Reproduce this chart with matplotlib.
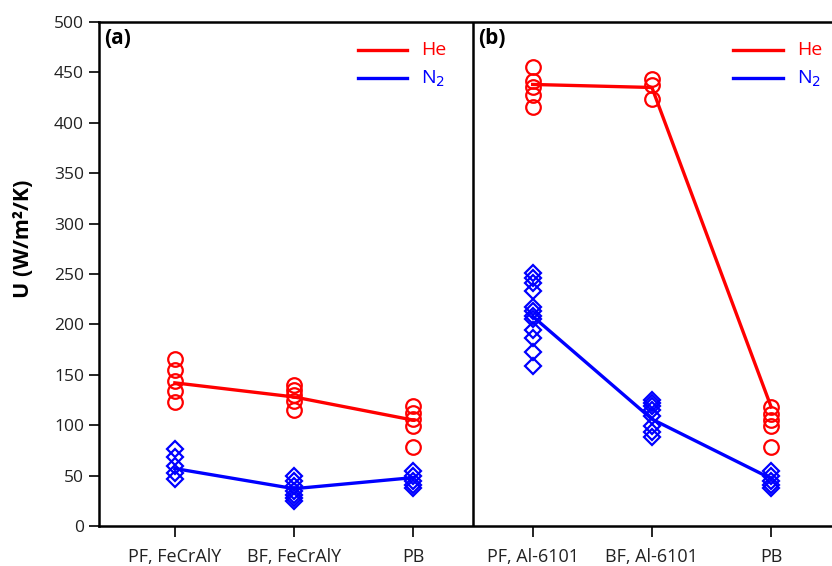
import matplotlib
matplotlib.use("Agg")
import matplotlib.pyplot as plt

plt.rcParams['font.family'] = ['Open Sans', 'DejaVu Sans']

labels = ['PF, FeCrAlY', 'BF, FeCrAlY', 'PB', 'PF, Al-6101', 'BF, Al-6101', 'PB']

# individual measurements per configuration
he_points = [
    [166, 155, 144, 134, 123],
    [140, 135, 130, 124, 115],
    [119, 112, 106, 99, 78],
    [455, 441, 435, 428, 416],
    [443, 437, 424],
    [118, 111, 105, 99, 78],
]
n2_points = [
    [76, 68, 60, 53, 47],
    [50, 45, 40, 35, 31, 28, 25],
    [55, 50, 45, 41, 38],
    [251, 246, 241, 233, 217, 213, 208, 205, 194, 186, 173, 159],
    [125, 122, 119, 115, 109, 99, 93, 88],
    [55, 50, 45, 41, 38],
]

# mean lines
he_mean = [142, 128, 105, 438, 435, 118]
n2_mean = [57, 37, 48, 208, 106, 47]

fig = plt.figure(figsize=(8.32, 5.66), dpi=100)
ax = fig.add_axes([0.1184, 0.0707, 0.8816, 0.8905])

x = list(range(1, 7))
for i in range(6):
    ax.plot([x[i]] * len(he_points[i]), he_points[i], 'o', mfc='none', mec='#ff0000',
            ms=10.5, mew=1.6, zorder=3)
    ax.plot([x[i]] * len(n2_points[i]), n2_points[i], 'D', mfc='none', mec='#0000ff',
            ms=7.8, mew=1.6, zorder=3)

for seg in (slice(0, 3), slice(3, 6)):
    ax.plot(x[seg], he_mean[seg], color='#ff0000', lw=2.4, zorder=2)
    ax.plot(x[seg], n2_mean[seg], color='#0000ff', lw=2.4, zorder=2)

ax.axvline(3.5, color='black', lw=1.8)

ax.set_xlim(0.36, 6.51)
ax.set_ylim(0, 500)
ax.set_xticks(x)
ax.set_xticklabels(labels, fontsize=13)
ax.set_yticks(range(0, 501, 50))
ax.tick_params(axis='y', labelsize=12.5, length=7, width=1.2, colors='black', labelcolor='#222222')
ax.tick_params(axis='x', length=8, width=1.2, pad=8, labelcolor='#222222')
ax.set_ylabel('U (W/m²/K)', fontsize=15.5, fontweight='bold', va='center')
ax.yaxis.set_label_coords(-0.1016, 0.569)

for s in ('left', 'bottom', 'top'):
    ax.spines[s].set_linewidth(1.8)
ax.spines['right'].set_visible(False)

ax.text(0.41, 494, '(a)', fontsize=15, fontweight='bold', va='top')
ax.text(3.54, 494, '(b)', fontsize=15, fontweight='bold', va='top')

# legends drawn as short lines with coloured text
for x0, x1 in ((2.535, 2.946), (5.68, 6.10)):
    ax.plot([x0, x1], [472, 472], color='#ff0000', lw=2.4)
    ax.plot([x0, x1], [444, 444], color='#0000ff', lw=2.4)
    ax.text(x1 + 0.12, 472, 'He', color='#ff0000', fontsize=14, va='center')
    ax.text(x1 + 0.12, 444, 'N$_2$', color='#0000ff', fontsize=14, va='center')

fig.savefig('out.png', dpi=100)
